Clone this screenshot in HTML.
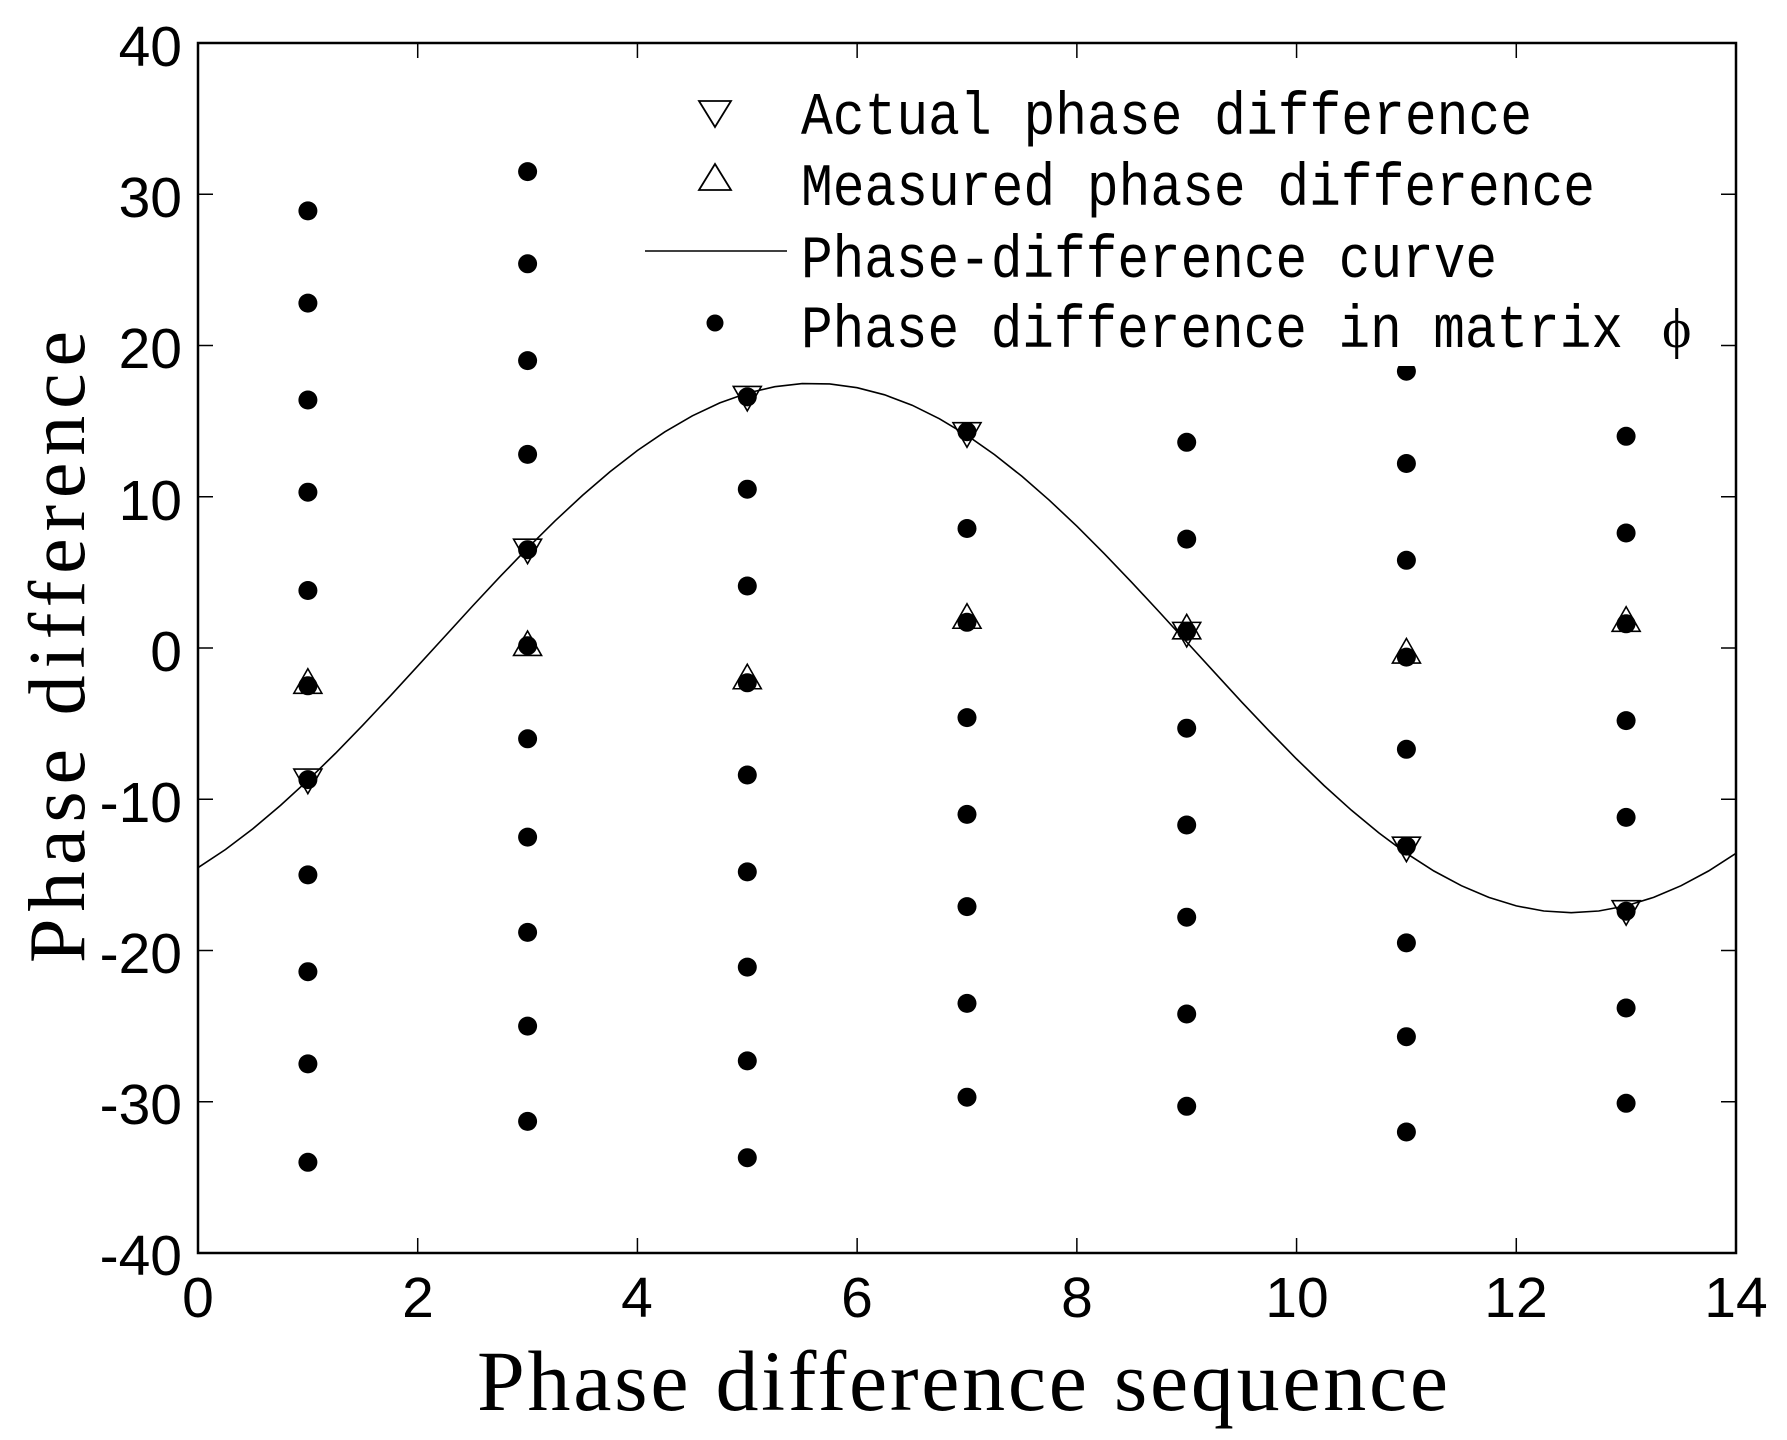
<!DOCTYPE html>
<html><head><meta charset="utf-8"><style>
html,body{margin:0;padding:0;background:#fff;}
svg{display:block;}
</style></head><body>
<svg id="s" width="1787" height="1440" xmlns="http://www.w3.org/2000/svg">
<rect width="1787" height="1440" fill="#fff"/>
<g id="data"></g>
<rect x="640" y="70" width="1065" height="296" fill="#fff"/>
<g font-family="Liberation Mono, monospace" font-size="60" fill="#000">
<text x="801" y="134" textLength="731" lengthAdjust="spacingAndGlyphs">Actual phase difference</text>
<text x="801" y="205" textLength="794" lengthAdjust="spacingAndGlyphs">Measured phase difference</text>
<text x="801" y="277" textLength="696" lengthAdjust="spacingAndGlyphs">Phase-difference curve</text>
<text x="801" y="347" textLength="822" lengthAdjust="spacingAndGlyphs">Phase difference in matrix</text>
<text x="1662" y="347" font-family="Liberation Serif, serif" font-size="56">ϕ</text>
</g>
<path d="M699,101 L731,101 L715,127 Z" fill="none" stroke="#000" stroke-width="1.8"/>
<path d="M715,164 L731,190 L699,190 Z" fill="none" stroke="#000" stroke-width="1.8"/>
<line x1="645" y1="251" x2="787" y2="251" stroke="#000" stroke-width="1.6"/>
<circle cx="715" cy="323" r="8.5" fill="#000"/>
<rect x="198" y="43" width="1538" height="1210" fill="none" stroke="#000" stroke-width="2.5"/>
<g id="ticks" stroke="#000" stroke-width="1.5"></g>
<g font-family="Liberation Sans, sans-serif" font-size="57" fill="#000" text-anchor="end">
<text x="182" y="66">40</text>
<text x="182" y="217">30</text>
<text x="182" y="368">20</text>
<text x="182" y="520">10</text>
<text x="182" y="671">0</text>
<text x="182" y="822">-10</text>
<text x="182" y="973">-20</text>
<text x="182" y="1124">-30</text>
<text x="182" y="1275">-40</text>
</g>
<g font-family="Liberation Sans, sans-serif" font-size="57" fill="#000" text-anchor="middle">
<text x="198" y="1317">0</text>
<text x="418" y="1317">2</text>
<text x="637" y="1317">4</text>
<text x="857" y="1317">6</text>
<text x="1077" y="1317">8</text>
<text x="1297" y="1317">10</text>
<text x="1516" y="1317">12</text>
<text x="1736" y="1317">14</text>
</g>
<text x="477" y="1410" font-family="Liberation Serif, serif" font-size="86" textLength="971" lengthAdjust="spacing">Phase difference sequence</text>
<text transform="translate(84,963) rotate(-90)" font-family="Liberation Serif, serif" font-size="80" textLength="632" lengthAdjust="spacing">Phase difference</text>
</svg>
<script>
(function(){
function X(v){return 198+v*1538/14;}
function Y(v){return 648-v*15.125;}
var g=document.getElementById('data');
var s='';
var pts=[];
for(var x=0;x<=14.0001;x+=0.25){pts.push(X(x).toFixed(1)+','+Y(17.5*Math.cos(2*Math.PI*(x-5.6)/13.8)).toFixed(1));}
s+='<polyline points="'+pts.join(' ')+'" fill="none" stroke="#000" stroke-width="1.6"/>';
var cols={
1:[28.9,22.8,16.4,10.3,3.8,-2.5,-8.7,-15.0,-21.4,-27.5,-34.0],
3:[31.5,25.4,19.0,12.8,6.5,0.15,-6.0,-12.5,-18.8,-25.0,-31.3],
5:[29.2,22.9,16.6,10.5,4.1,-2.3,-8.4,-14.8,-21.1,-27.3,-33.7],
7:[27,20.6,14.3,7.9,1.7,-4.6,-11.0,-17.1,-23.5,-29.7],
9:[26.2,19.9,13.6,7.2,1.1,-5.3,-11.7,-17.8,-24.2,-30.3],
11:[24.6,18.3,12.2,5.8,-0.6,-6.7,-13.1,-19.5,-25.7,-32.0],
13:[26.8,20.4,14.0,7.6,1.6,-4.8,-11.2,-17.4,-23.8,-30.1]};
for(var c in cols){cols[c].forEach(function(v){s+='<circle cx="'+X(+c).toFixed(1)+'" cy="'+Y(v).toFixed(1)+'" r="9.5" fill="#000"/>';});}
var dn=[[1,-8.7],[3,6.5],[5,16.6],[7,14.2],[9,1.0],[11,-13.2],[13,-17.4]];
var up=[[1,-2.3],[3,0.2],[5,-2.0],[7,2.0],[9,1.3],[11,-0.3],[13,1.8]];
var h=14;
dn.forEach(function(p){var x=X(p[0]),y=Y(p[1]);s+='<path d="M'+(x-h)+','+(y-h*0.75)+' L'+(x+h)+','+(y-h*0.75)+' L'+x+','+(y+h)+' Z" fill="none" stroke="#000" stroke-width="1.6"/>';});
up.forEach(function(p){var x=X(p[0]),y=Y(p[1]);s+='<path d="M'+x+','+(y-h)+' L'+(x+h)+','+(y+h*0.75)+' L'+(x-h)+','+(y+h*0.75)+' Z" fill="none" stroke="#000" stroke-width="1.6"/>';});
g.innerHTML=s;
var t='';
for(var i=0;i<=14;i+=2){var x=X(i);t+='<line x1="'+x+'" y1="1253" x2="'+x+'" y2="1238"/><line x1="'+x+'" y1="43" x2="'+x+'" y2="58"/>';}
for(var v=-40;v<=40;v+=10){var y=Y(v);t+='<line x1="198" y1="'+y+'" x2="213" y2="'+y+'"/><line x1="1736" y1="'+y+'" x2="1721" y2="'+y+'"/>';}
document.getElementById('ticks').innerHTML=t;
})();
</script>
</body></html>
